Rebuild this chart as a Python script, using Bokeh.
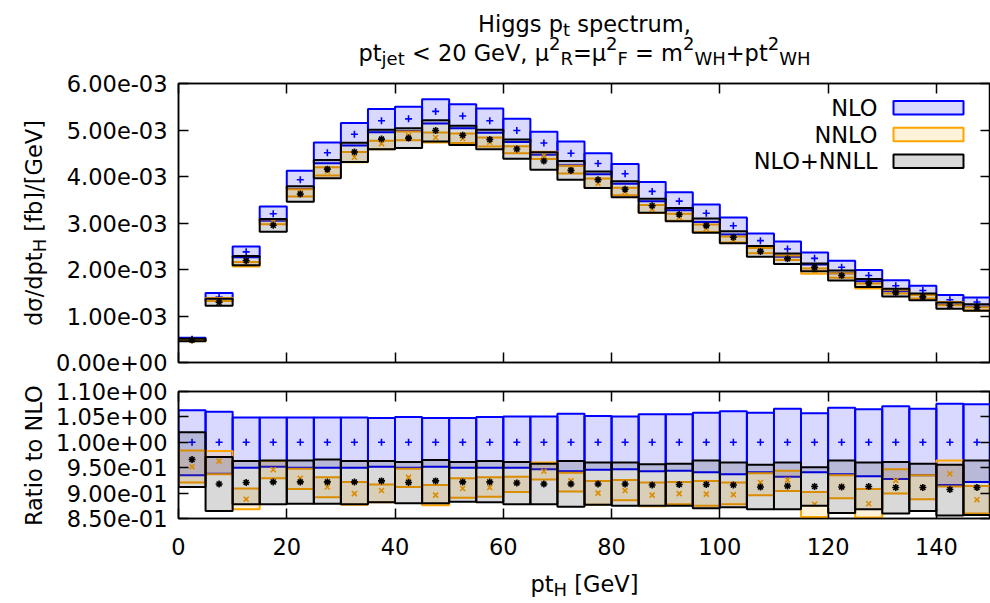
import math
import numpy as np
from bokeh.plotting import figure
from bokeh.layouts import column, row
from bokeh.models import (ColumnDataSource, FixedTicker, LinearAxis, Label,
                          BoxAnnotation, Range1d, CustomJSTickFormatter)
from bokeh.embed import file_html
from bokeh.resources import INLINE

# ---------------- data ----------------
bin_left = [0, 5, 10, 15, 20, 25, 30, 35, 40, 45, 50, 55, 60, 65, 70,
            75, 80, 85, 90, 95, 100, 105, 110, 115, 120, 125, 130, 135, 140, 145]
bin_right = [5, 10, 15, 20, 25, 30, 35, 40, 45, 50, 55, 60, 65, 70, 75,
             80, 85, 90, 95, 100, 105, 110, 115, 120, 125, 130, 135, 140, 145, 150]
bin_center = [2.5, 7.5, 12.5, 17.5, 22.5, 27.5, 32.5, 37.5, 42.5, 47.5, 52.5, 57.5,
              62.5, 67.5, 72.5, 77.5, 82.5, 87.5, 92.5, 97.5, 102.5, 107.5, 112.5,
              117.5, 122.5, 127.5, 132.5, 137.5, 142.5, 147.5]

# NLO central value, in units of 1e-3 fb/GeV
nlo_central_e3 = [0.50, 1.41, 2.38, 3.20, 3.93, 4.51, 4.91, 5.20, 5.24, 5.40,
                  5.30, 5.20, 4.99, 4.72, 4.50, 4.28, 4.06, 3.68, 3.47, 3.21,
                  2.94, 2.62, 2.44, 2.24, 2.05, 1.87, 1.65, 1.55, 1.35, 1.30]

# ratios to NLO central
ratio_nlo_lo = [0.935, 0.938, 0.950, 0.952, 0.950, 0.950, 0.950, 0.952, 0.950, 0.952,
                0.950, 0.950, 0.950, 0.947, 0.943, 0.946, 0.947, 0.943, 0.944, 0.941,
                0.937, 0.941, 0.932, 0.941, 0.937, 0.933, 0.928, 0.935, 0.916, 0.922]
ratio_nlo_hi = [1.063, 1.060, 1.049, 1.049, 1.049, 1.049, 1.049, 1.048, 1.050, 1.048,
                1.048, 1.050, 1.051, 1.051, 1.056, 1.052, 1.051, 1.055, 1.055, 1.058,
                1.061, 1.058, 1.066, 1.057, 1.068, 1.065, 1.071, 1.066, 1.076, 1.075]

ratio_nnlo = [0.952, 0.963, 0.888, 0.946, 0.929, 0.912, 0.899, 0.905, 0.931, 0.896,
              0.909, 0.911, 0.920, 0.943, 0.924, 0.900, 0.905, 0.896, 0.899, 0.898,
              0.897, 0.921, 0.926, 0.878, 0.913, 0.879, 0.925, 0.911, 0.938, 0.887]
ratio_nnlo_lo = [0.921, 0.937, 0.868, 0.929, 0.908, 0.892, 0.877, 0.882, 0.912, 0.876,
                 0.891, 0.893, 0.902, 0.927, 0.903, 0.877, 0.886, 0.874, 0.878, 0.875,
                 0.878, 0.896, 0.904, 0.853, 0.890, 0.852, 0.899, 0.888, 0.913, 0.860]
ratio_nnlo_hi = [0.984, 0.983, 0.909, 0.963, 0.948, 0.931, 0.922, 0.917, 0.948, 0.916,
                 0.929, 0.931, 0.932, 0.960, 0.940, 0.924, 0.926, 0.921, 0.922, 0.924,
                 0.921, 0.939, 0.944, 0.902, 0.935, 0.908, 0.947, 0.935, 0.964, 0.914]

ratio_nnll = [0.966, 0.918, 0.921, 0.922, 0.922, 0.922, 0.922, 0.924, 0.921, 0.924,
              0.922, 0.922, 0.920, 0.918, 0.918, 0.918, 0.918, 0.916, 0.917, 0.917,
              0.916, 0.912, 0.914, 0.913, 0.912, 0.913, 0.911, 0.911, 0.907, 0.911]
ratio_nnll_lo = [0.912, 0.865, 0.878, 0.878, 0.879, 0.879, 0.878, 0.882, 0.880, 0.880,
                 0.883, 0.882, 0.878, 0.878, 0.873, 0.877, 0.875, 0.875, 0.875, 0.870,
                 0.872, 0.868, 0.868, 0.875, 0.861, 0.868, 0.860, 0.865, 0.856, 0.857]
ratio_nnll_hi = [1.020, 0.971, 0.963, 0.964, 0.964, 0.966, 0.963, 0.963, 0.961, 0.965,
                 0.961, 0.963, 0.961, 0.958, 0.963, 0.960, 0.960, 0.957, 0.958, 0.964,
                 0.960, 0.956, 0.960, 0.951, 0.964, 0.960, 0.961, 0.958, 0.956, 0.964]

x_ticks = [0, 20, 40, 60, 80, 100, 120, 140]
x_tick_labels = ["0", "20", "40", "60", "80", "100", "120", "140"]
top_y_ticks = [0.0, 0.001, 0.002, 0.003, 0.004, 0.005, 0.006]
top_y_tick_labels = ["0.00e+00", "1.00e-03", "2.00e-03", "3.00e-03",
                     "4.00e-03", "5.00e-03", "6.00e-03"]
ratio_y_ticks = [0.85, 0.90, 0.95, 1.00, 1.05, 1.10]
ratio_y_tick_labels = ["8.50e-01", "9.00e-01", "9.50e-01",
                       "1.00e+00", "1.05e+00", "1.10e+00"]
series_names = ["NLO", "NNLO", "NLO+NNLL"]

# ---------------- styling ----------------
FONT = "DejaVu Sans"
FS = 22.5
C_NLO = "#0000ff"
C_NNLO = "#ffa500"
C_NNLL = "#000000"
FILL_A = 0.15
LW = 2

W = {' ': 0.318, ',': 0.318, '<': 0.838, '=': 0.838, '+': 0.838, '0': 0.636,
     '2': 0.636, 'G': 0.775, 'V': 0.684, 'H': 0.752, 'R': 0.695, 'F': 0.575,
     'W': 0.989, 'e': 0.615, 'g': 0.635, 'i': 0.278, 'j': 0.278, 'm': 0.974,
     'p': 0.635, 'r': 0.411, 's': 0.521, 't': 0.392, 'u': 0.634, 'c': 0.550,
     'μ': 0.636, 'd': 0.635, 'σ': 0.636, '/': 0.337, '[': 0.390, ']': 0.390,
     'b': 0.635, 'f': 0.352, 'a': 0.613, 'o': 0.612, 'N': 0.748, 'L': 0.557,
     'O': 0.787}


def tw(t):
    return sum(W.get(c, 0.6) for c in t)


def rich(p, pieces, x, y, size, align="center", vertical=False):
    """Text with sub/superscripts, positioned in screen px of a text-only canvas."""
    sizes = [size if k == "n" else size * 0.8 for _, k in pieces]
    widths = [tw(t) * s for (t, _), s in zip(pieces, sizes)]
    total = sum(widths)
    pos = {"center": -total / 2, "left": 0.0, "right": -total}[align]
    for (t, k), s, w in zip(pieces, sizes, widths):
        shift = {"n": 0.0, "sub": -0.25 * size, "sup": 0.42 * size}[k]
        lead = (len(t) - len(t.lstrip(' '))) * W[' '] * s
        txt = t.strip(' ')
        if vertical:
            lx, ly, ang = x - shift, y + pos + lead, math.pi / 2
        else:
            lx, ly, ang = x + pos + lead, y + shift, 0
        p.add_layout(Label(x=lx, y=ly, x_units="screen", y_units="screen", text=txt,
                           angle=ang, text_font=FONT, text_font_size=f"{s:.2f}px",
                           text_align="left", text_baseline="alphabetic",
                           text_color="black"))
        pos += w


def fmt(ticks, labels):
    return CustomJSTickFormatter(args=dict(vals=ticks, labs=labels), code="""
        let best = 0, bd = Infinity;
        for (let i = 0; i < vals.length; i++) {
            const d = Math.abs(vals[i] - tick);
            if (d < bd) { bd = d; best = i; }
        }
        return labs[best];
    """)


BLANK = CustomJSTickFormatter(code="return '';")


def style_axis(ax, ticks, labels=None, standoff=11):
    ax.ticker = FixedTicker(ticks=ticks)
    ax.major_tick_in = 10
    ax.major_tick_out = 0
    ax.minor_tick_in = 0
    ax.minor_tick_out = 0
    ax.major_tick_line_color = "black"
    ax.major_tick_line_width = 1.5
    ax.axis_line_color = "black"
    ax.axis_line_width = 1.5
    if labels is None:
        ax.formatter = BLANK
        ax.major_label_text_color = None
        ax.major_label_standoff = 0
    else:
        ax.formatter = fmt(ticks, labels)
        ax.major_label_text_font = FONT
        ax.major_label_text_font_size = f"{FS}px"
        ax.major_label_text_color = "black"
        ax.major_label_standoff = standoff


# layout geometry (page pixels)
PAGE_W = 990
YL_W = 52                 # width of the y-label strip
FIG_W = PAGE_W - YL_W     # width of the data figures
BORDER_L = 126            # frame starts at x = 178
TITLE_H = 69
TOP_H, TOP_MT, TOP_MB = 307, 14, 14     # frame 83 .. 362
BOT_H, BOT_MT, BOT_MB = 191, 15, 49     # frame 391 .. 518
XL_H = 33
FRAME_CX = YL_W + BORDER_L + (FIG_W - BORDER_L) / 2


def make_fig(height, yr, mt, mb):
    p = figure(width=FIG_W, height=height, x_range=Range1d(0, 150), y_range=Range1d(*yr),
               output_backend="svg", toolbar_location=None,
               min_border_left=BORDER_L, min_border_right=0,
               min_border_top=mt, min_border_bottom=mb,
               background_fill_color="white", border_fill_color="white",
               outline_line_color="black", outline_line_width=1.5)
    p.grid.visible = False
    return p


def text_canvas(w, h):
    p = figure(width=w, height=h, x_range=Range1d(0, 1), y_range=Range1d(0, 1),
               output_backend="svg", toolbar_location=None,
               x_axis_location=None, y_axis_location=None,
               min_border=0, outline_line_color=None,
               background_fill_color="white", border_fill_color="white")
    p.grid.visible = False
    return p


nlo_c = np.array(nlo_central_e3) * 1e-3

src_top = ColumnDataSource(dict(
    left=bin_left, right=bin_right, center=bin_center,
    nlo=nlo_c, nlo_lo=nlo_c * np.array(ratio_nlo_lo), nlo_hi=nlo_c * np.array(ratio_nlo_hi),
    nnlo=nlo_c * np.array(ratio_nnlo), nnlo_lo=nlo_c * np.array(ratio_nnlo_lo),
    nnlo_hi=nlo_c * np.array(ratio_nnlo_hi),
    nnll=nlo_c * np.array(ratio_nnll), nnll_lo=nlo_c * np.array(ratio_nnll_lo),
    nnll_hi=nlo_c * np.array(ratio_nnll_hi)))

src_rat = ColumnDataSource(dict(
    left=bin_left, right=bin_right, center=bin_center,
    nlo=nlo_c / nlo_c, nlo_lo=ratio_nlo_lo, nlo_hi=ratio_nlo_hi,
    nnlo=ratio_nnlo, nnlo_lo=ratio_nnlo_lo, nnlo_hi=ratio_nnlo_hi,
    nnll=ratio_nnll, nnll_lo=ratio_nnll_lo, nnll_hi=ratio_nnll_hi))


def draw_series(p, src):
    specs = [("nlo", C_NLO, "cross"), ("nnlo", C_NNLO, "x"), ("nnll", C_NNLL, "asterisk")]
    for key, col, mk in specs:
        p.quad(left="left", right="right", bottom=key + "_lo", top=key + "_hi", source=src,
               fill_color=col, fill_alpha=FILL_A, line_color=col, line_width=LW)
        p.scatter(x="center", y=key, source=src, marker=mk, size=7,
                  line_color=col, line_width=1.6)


# ---------------- title ----------------
title = text_canvas(PAGE_W, TITLE_H)
rich(title, [("Higgs p", "n"), ("t", "sub"), (" spectrum,", "n")],
     FRAME_CX, TITLE_H - 23, FS)
rich(title, [("pt", "n"), ("jet", "sub"), (" < 20 GeV, μ", "n"), ("2", "sup"), ("R", "sub"),
             ("=μ", "n"), ("2", "sup"), ("F", "sub"), (" = m", "n"), ("2", "sup"),
             ("WH", "sub"), ("+pt", "n"), ("2", "sup"), ("WH", "sub")],
     FRAME_CX, TITLE_H - 52, FS)

# ---------------- top panel ----------------
top = make_fig(TOP_H, (0, 0.006), TOP_MT, TOP_MB)
draw_series(top, src_top)
style_axis(top.xaxis[0], x_ticks)
style_axis(top.yaxis[0], top_y_ticks, top_y_tick_labels)
ax = LinearAxis(); style_axis(ax, x_ticks); top.add_layout(ax, "above")
ax = LinearAxis(); style_axis(ax, top_y_ticks); top.add_layout(ax, "right")

# legend
frame_w = FIG_W - BORDER_L
frame_h = TOP_H - TOP_MT - TOP_MB
gx = 150.0 / frame_w
gy = 0.006 / frame_h
leg_cols = [C_NLO, C_NNLO, C_NNLL]
for i, (name, col) in enumerate(zip(series_names, leg_cols)):
    cy = 24.3 + 26.7 * i
    top.add_layout(Label(x=150, y=0.006, x_offset=-113, y_offset=-cy, text=name,
                         text_font=FONT, text_font_size=f"{FS}px", text_align="right",
                         text_baseline="middle", text_color="black"))
    top.add_layout(BoxAnnotation(left=150 - 97 * gx, right=150 - 27 * gx,
                                 top=0.006 - (cy - 6.7) * gy, bottom=0.006 - (cy + 6.7) * gy,
                                 fill_color=col, fill_alpha=FILL_A, line_color=col,
                                 line_width=LW, line_alpha=1.0, line_dash="solid",
                                 level="overlay"))

# ---------------- ratio panel ----------------
bot = make_fig(BOT_H, (0.85, 1.10), BOT_MT, BOT_MB)
draw_series(bot, src_rat)
style_axis(bot.xaxis[0], x_ticks, x_tick_labels, standoff=19)
style_axis(bot.yaxis[0], ratio_y_ticks, ratio_y_tick_labels)
ax = LinearAxis(); style_axis(ax, x_ticks); bot.add_layout(ax, "above")
ax = LinearAxis(); style_axis(ax, ratio_y_ticks); bot.add_layout(ax, "right")

# ---------------- y-axis titles (one strip for both panels) ----------------
STRIP_H = TOP_H + BOT_H
ylab = text_canvas(YL_W, STRIP_H)
top_center_from_bottom = STRIP_H - (TOP_MT + frame_h / 2)
bot_center_from_bottom = BOT_MB + (BOT_H - BOT_MT - BOT_MB) / 2
rich(ylab, [("dσ/dpt", "n"), ("H", "sub"), (" [fb]/[GeV]", "n")],
     33, top_center_from_bottom, FS, vertical=True)
rich(ylab, [("Ratio to NLO", "n")], 33, bot_center_from_bottom, FS, vertical=True)

# ---------------- x-axis title ----------------
xlab = text_canvas(PAGE_W, XL_H)
rich(xlab, [("pt", "n"), ("H", "sub"), (" [GeV]", "n")], FRAME_CX, 17, FS)

layout = column(title,
                row(ylab, column(top, bot, spacing=0), spacing=0),
                xlab, spacing=0)
open("out.html", "w").write(file_html(layout, INLINE))
